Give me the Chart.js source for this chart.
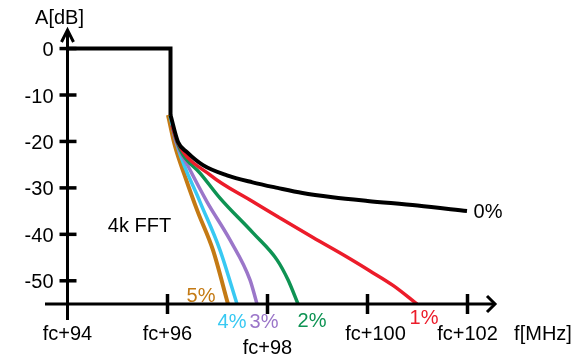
<!DOCTYPE html>
<html lang="en">
  <head>
    <meta charset="utf-8" />
    <title>FFT filter roll-off</title>
    <style>
      * {
        margin: 0;
        padding: 0;
      }
      body {
        background: white;
      }
    </style>
  </head>
  <body>
    <canvas id="myChart" width="585" height="357"></canvas>

    <script src="https://cdn.jsdelivr.net/npm/chart.js"></script>
    <script>
      // axis ticks
      const xTicks = [94, 96, 98, 100, 102];
      const xTickLabels = ["fc+94", "fc+96", "fc+98", "fc+100", "fc+102"];
      const yTicks = [0, -10, -20, -30, -40, -50];

      // flat passband and cut edge
      const stepX = [94, 96.06, 96.06];
      const stepY = [0, 0, -14.3];

      // 0%
      const p0X = [96.06, 96.21, 96.39, 96.71, 97.19, 97.7, 98.2, 98.7, 99.3, 100.0, 101.0, 101.99];
      const p0Y = [-14.3, -20.1, -22.3, -25.1, -27.3, -28.8, -30.0, -31.1, -32.0, -32.8, -33.8, -35.0];
      // 1%
      const p1X = [96.09, 96.21, 96.85, 97.71, 98.25, 98.91, 99.59, 100.05, 100.51, 100.99];
      const p1Y = [-16.5, -20.3, -27.2, -33.0, -36.5, -40.7, -44.9, -47.9, -51.0, -55.0];
      // 2%
      const p2X = [96.09, 96.19, 96.31, 96.65, 97.05, 97.71, 98.19, 98.41, 98.61];
      const p2Y = [-16.5, -20.1, -22.9, -26.8, -32.2, -39.7, -45.5, -49.8, -55.0];
      // 3%
      const p3X = [96.09, 96.17, 96.41, 96.79, 97.25, 97.65, 97.79];
      const p3Y = [-16.5, -20.1, -25.3, -33.0, -41.2, -49.8, -55.0];
      // 4%
      const p4X = [96.05, 96.21, 96.65, 97.05, 97.39];
      const p4Y = [-14.5, -21.4, -33.0, -43.4, -55.0];
      // 5%
      const p5X = [96.01, 96.15, 96.35, 96.6, 96.91, 97.21];
      const p5Y = [-14.3, -21.0, -27.5, -35.0, -43.4, -55.0];

      const curveNames = ["0%", "1%", "2%", "3%", "4%", "5%"];
      const curveColors = ["#000000", "#ec1c2a", "#0e9353", "#9b76c9", "#38c9f2", "#c47a14"];

      const pts = (xs, ys) => xs.map((v, i) => ({ x: v, y: ys[i] }));

      const curves = [
        pts(p0X, p0Y),
        pts(p1X, p1Y),
        pts(p2X, p2Y),
        pts(p3X, p3Y),
        pts(p4X, p4Y),
        pts(p5X, p5Y),
      ];

      const FONT = "20px 'Liberation Sans', Arial, sans-serif";

      const datasets = [
        {
          data: pts(stepX, stepY),
          borderColor: "#000",
          borderWidth: 4,
          tension: 0,
          borderJoinStyle: "miter",
        },
      ];
      curves.forEach((c, i) => {
        datasets.push({
          data: c,
          borderColor: curveColors[i],
          borderWidth: i === 0 || i === 5 ? 4 : 3.5,
          cubicInterpolationMode: "monotone",
        });
      });

      const axesPlugin = {
        id: "axes",
        afterDraw(chart, args, options) {
          const {
            ctx,
            chartArea,
            scales: { x, y },
          } = chart;
          const x0 = x.getPixelForValue(xTicks[0]);
          const y0 = y.getPixelForValue(y.min);

          ctx.save();
          ctx.strokeStyle = "#000";
          ctx.lineWidth = 3;
          ctx.lineCap = "butt";

          // vertical axis with arrow
          ctx.beginPath();
          ctx.moveTo(x0, y0 + 16);
          ctx.lineTo(x0, chartArea.top - 2);
          ctx.stroke();
          ctx.beginPath();
          ctx.moveTo(x0 - 6, chartArea.top + 9);
          ctx.lineTo(x0, chartArea.top - 3);
          ctx.lineTo(x0 + 6, chartArea.top + 9);
          ctx.stroke();

          // horizontal axis with arrow
          ctx.beginPath();
          ctx.moveTo(chartArea.left, y0);
          ctx.lineTo(chartArea.right, y0);
          ctx.stroke();
          ctx.beginPath();
          ctx.moveTo(chartArea.right - 8, y0 - 8);
          ctx.lineTo(chartArea.right, y0);
          ctx.lineTo(chartArea.right - 8, y0 + 8);
          ctx.stroke();

          // tick marks
          ctx.lineWidth = 3.5;
          xTicks.slice(1).forEach((v) => {
            const px = x.getPixelForValue(v);
            ctx.beginPath();
            ctx.moveTo(px, y0 - 10);
            ctx.lineTo(px, y0 + 10);
            ctx.stroke();
          });
          yTicks.forEach((v) => {
            const py = y.getPixelForValue(v);
            ctx.beginPath();
            ctx.moveTo(x0 - 8, py);
            ctx.lineTo(x0 + 9, py);
            ctx.stroke();
          });

          // tick labels
          ctx.font = FONT;
          ctx.fillStyle = "#000";
          ctx.textBaseline = "middle";
          ctx.textAlign = "right";
          yTicks.forEach((v) => {
            ctx.fillText(String(v), x0 - 14, y.getPixelForValue(v) + 2);
          });
          ctx.textAlign = "center";
          xTicks.forEach((v, i) => {
            ctx.fillText(
              xTickLabels[i],
              x.getPixelForValue(v) + options.xLabelDx[i],
              y0 + options.xLabelDy[i]
            );
          });

          // axis titles
          ctx.fillText("A[dB]", x0 - 8, 18);
          ctx.fillText("f[MHz]", chartArea.right + 48, y0 + 30);

          // curve labels next to the end of each curve
          curves.forEach((c, i) => {
            const last = c[c.length - 1];
            ctx.fillStyle = curveColors[i];
            ctx.fillText(
              curveNames[i],
              x.getPixelForValue(last.x) + options.curveLabelOffset[i][0],
              y.getPixelForValue(last.y) + options.curveLabelOffset[i][1]
            );
          });

          ctx.fillStyle = "#000";
          ctx.fillText("4k FFT", x.getPixelForValue(95.44), y.getPixelForValue(-38.3));
          ctx.restore();
        },
      };

      const config = {
        type: "line",
        data: { datasets: datasets },
        options: {
          responsive: false,
          animation: false,
          devicePixelRatio: 1,
          layout: {
            padding: { left: 45, right: 90, top: 33, bottom: 53 },
          },
          elements: {
            point: { radius: 0 },
            line: { fill: false, borderCapStyle: "butt" },
          },
          plugins: {
            legend: { display: false },
            tooltip: { enabled: false },
            axes: {
              xLabelDx: [0, 0, 0, 8, 0],
              xLabelDy: [30, 30, 44, 30, 30],
              curveLabelOffset: [
                [21, 1],
                [7, 14],
                [14, 17],
                [7, 18],
                [-5, 18],
                [-27, -8],
              ],
            },
          },
          scales: {
            x: { type: "linear", min: 93.55, max: 102.55, display: false },
            y: { type: "linear", min: -55, max: 3.35, display: false },
          },
        },
        plugins: [axesPlugin],
      };

      const myChart = new Chart(document.getElementById("myChart"), config);
    </script>
  </body>
</html>
